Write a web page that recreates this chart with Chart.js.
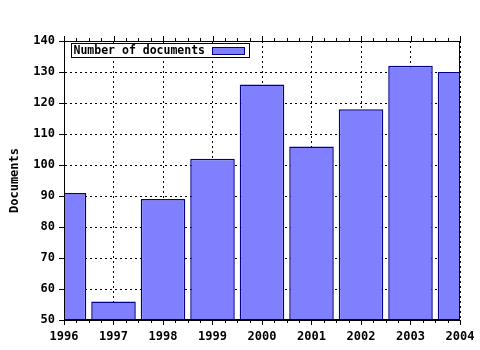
<!DOCTYPE html>
<html><head><meta charset="utf-8">
<script src="https://cdn.jsdelivr.net/npm/chart.js@4"></script>
<style>html,body{margin:0;padding:0;background:#fff}</style>
</head><body>
<canvas id="c" width="480" height="350"></canvas>
<script>
const years = ['1996','1997','1998','1999','2000','2001','2002','2003','2004'];
const documents = [91, 56, 89, 102, 126, 106, 118, 132, 130];
const seriesLabel = 'Number of documents';
const yTitle = 'Documents';
const yMin = 50, yMax = 140, yStep = 10;

const FONT = 'DejaVu Sans Mono';
const fill = '#8080ff', edge = '#00008b';

const framePlugin = {
  id: 'frame',
  afterDatasetsDraw(chart) {
    const {ctx, chartArea: a} = chart;
    ctx.save();
    ctx.strokeStyle = '#000';
    ctx.lineWidth = 1;
    ctx.strokeRect(Math.round(a.left) + 0.5, Math.round(a.top) + 0.5,
                   Math.round(a.right - a.left) - 1, Math.round(a.bottom - a.top) - 1);
    const xs = chart.scales.x;
    ctx.beginPath();
    for (let i = 0; i < years.length - 1; i++) {
      const p0 = xs.getPixelForTick(i), p1 = xs.getPixelForTick(i + 1);
      for (let k = 1; k < 4; k++) {
        const px = Math.round(p0 + (p1 - p0) * k / 4) + 0.5;
        ctx.moveTo(px, Math.round(a.bottom)); ctx.lineTo(px, Math.round(a.bottom) + 3);
        ctx.moveTo(px, Math.round(a.top)); ctx.lineTo(px, Math.round(a.top) - 3);
      }
    }
    for (let i = 0; i < years.length; i++) {
      const px = Math.round(xs.getPixelForTick(i)) + 0.5;
      ctx.moveTo(px, Math.round(a.top)); ctx.lineTo(px, Math.round(a.top) - 5);
    }
    ctx.stroke();
    const bx = Math.round(a.left) + 7.5, by = Math.round(a.top) + 2.5;
    ctx.font = 'bold 11.5px "' + FONT + '"';
    const tw = ctx.measureText(seriesLabel).width;
    const bw = Math.round(tw + 46), bh = 14;
    ctx.fillStyle = '#fff';
    ctx.fillRect(bx, by, bw, bh);
    ctx.strokeRect(bx, by, bw, bh);
    ctx.fillStyle = '#000';
    ctx.textBaseline = 'middle';
    ctx.fillText(seriesLabel, bx + 2, by + bh / 2 + 0.5);
    const sx = Math.round(bx + tw + 9) + 0.5;
    ctx.fillStyle = fill;
    ctx.fillRect(sx, by + 4, 32, 7);
    ctx.strokeStyle = edge;
    ctx.strokeRect(sx, by + 4, 32, 7);
    ctx.restore();
  }
};

new Chart(document.getElementById('c'), {
  type: 'bar',
  data: {
    labels: years,
    datasets: [{
      label: seriesLabel,
      data: documents,
      backgroundColor: fill,
      borderColor: edge,
      borderWidth: 1.5,
      barPercentage: 0.9,
      categoryPercentage: 1,
      clip: 0
    }]
  },
  options: {
    responsive: false,
    animation: false,
    layout: {padding: {left: 0, right: 20, top: 41, bottom: 0}},
    plugins: {legend: {display: false}, tooltip: {enabled: false}},
    scales: {
      x: {
        offset: false,
        grid: {offset: false, color: '#000', lineWidth: 1, tickLength: 5, tickBorderDash: [], tickColor: '#000'},
        border: {display: true, color: '#000', dash: [2, 3]},
        ticks: {color: '#000', font: {family: FONT, size: 12, weight: 'bold'}, padding: 5, maxRotation: 0, autoSkip: false},
        afterFit(s) { s.height = 30; }
      },
      y: {
        min: yMin, max: yMax,
        grid: {color: '#000', lineWidth: 1, tickLength: 5, tickBorderDash: [], tickColor: '#000'},
        border: {display: true, color: '#000', dash: [2, 3]},
        ticks: {stepSize: yStep, color: '#000', font: {family: FONT, size: 12, weight: 'bold'}, padding: 4},
        title: {display: true, text: yTitle, color: '#000', font: {family: FONT, size: 12, weight: 'bold'}, padding: {top: 8, bottom: 0}},
        afterFit(s) { s.width = 64; }
      }
    }
  },
  plugins: [framePlugin]
});
</script>
</body></html>
